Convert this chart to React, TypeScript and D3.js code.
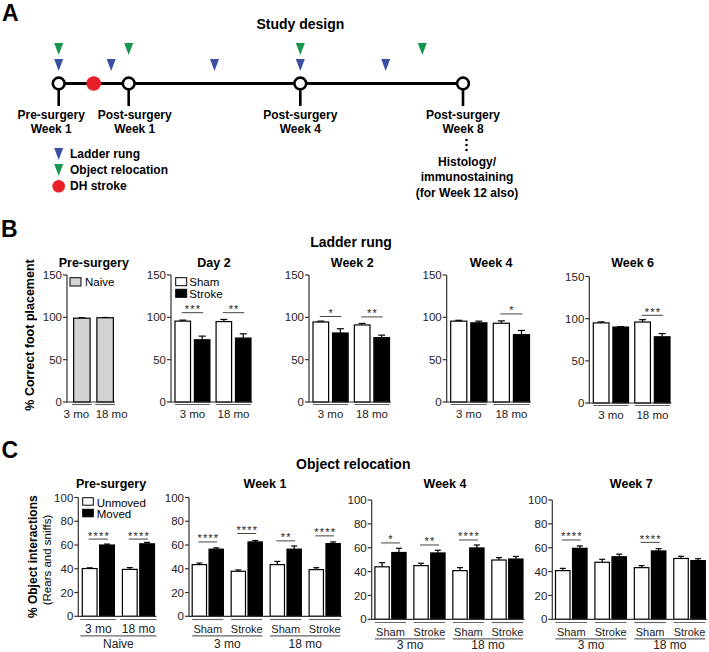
import React from "react";
import * as d3 from "d3";

const FONT = "'Liberation Sans', Arial, Helvetica, sans-serif";

// ---------------- Panel A data ----------------
const milestoneWeeks = [-1, 1, 4, 8];
const milestoneTop = ["Pre-surgery", "Post-surgery", "Post-surgery", "Post-surgery"];
const milestoneBottom = ["Week 1", "Week 1", "Week 4", "Week 8"];
const ladderRungWeeks = [-1, 0.5, 2.5, 4, 6.1];
const objectRelocationWeeks = [-1, 1, 4, 7];
const strokeWeeks = [0];
const histologyLines = ["Histology/", "immunostaining", "(for Week 12 also)"];
const legendLabels = ["Ladder rung", "Object relocation", "DH stroke"];

// ---------------- Panel B data ----------------
const ageGroups = ["3 mo", "18 mo"];
const ladderSeries = ["Sham", "Stroke"];
const ladderTitles = ["Day 2", "Week 2", "Week 4", "Week 6"];
const ladderTicks = [0, 50, 100, 150];
const preNaive = [99, 99.5];
const preNaiveErr = [0.5, 0.3];
const ladderSham = [[95.5, 95], [94.5, 91], [95.5, 93], [95, 96]];
const ladderShamErr = [[1.2, 2.5], [1, 1.8], [1, 2.8], [1.2, 2.8]];
const ladderStroke = [[73.5, 75.5], [81.5, 76], [93.5, 79.5], [90, 78.5]];
const ladderStrokeErr = [[4.3, 5], [5, 3], [2, 5], [0.6, 3.8]];
const ladderSig = [["***", "**"], ["*", "**"], ["", "*"], ["", "***"]];
const ladderSigLevel = [[105.5, 105.5], [101, 100.5], [0, 104], [0, 104]];

// ---------------- Panel C data ----------------
const relocSeries = ["Unmoved", "Moved"];
const relocTitles = ["Week 1", "Week 4", "Week 7"];
const relocTicks = [0, 20, 40, 60, 80, 100];
const surgeryGroups = ["Sham", "Stroke", "Sham", "Stroke"];
const surgeryAges = ["3 mo", "18 mo"];
const preUnmoved = [40.2, 39.5];
const preUnmovedErr = [0.6, 1.5];
const preMoved = [60, 61];
const preMovedErr = [0.8, 1.2];
const preSig = ["****", "****"];
const preSigLevel = [65, 65];
const relocUnmoved = [[43.5, 37.9, 43.5, 39.3], [44, 45, 40.8, 49.7], [40.8, 47.8, 43.3, 51]];
const relocUnmovedErr = [[1.3, 1.1, 2.7, 1.6], [3.5, 2, 2.5, 2], [1.9, 2.5, 1.7, 1.8]];
const relocMoved = [[56.5, 62.6, 56.5, 61.2], [56, 55.6, 59.8, 50.5], [59.5, 52.4, 57.3, 49.2]];
const relocMovedErr = [[1.1, 1.2, 2.7, 1.4], [3.5, 2.3, 2.5, 2.2], [2, 2.2, 1.9, 1.6]];
const relocSig = [["****", "****", "**", "****"], ["*", "**", "****", ""], ["****", "", "****", ""]];
const relocSigLevel = [[62.6, 69.7, 63.5, 67.7], [64, 62.3, 66.5, 0], [66.5, 0, 64.5, 0]];

const BLUE = "#3a4fa3";
const GREEN = "#17964f";
const RED = "#e8202a";
const AXIS = "#333";
const ULINE = "#666";

type Level2 = { label: string; from: number; to: number };

interface ChartProps {
  x0: number;
  x1: number;
  yZeroPx: number;
  yMaxPx: number;
  yMax: number;
  ticks: number[];
  nGroups: number;
  fills: string[];
  values: number[][];
  errs: number[][];
  sig: string[];
  sigLevel: number[];
  padInner: number;
  subPad: number;
  subOuter: number;
  rangePad: [number, number];
  capW: number;
  labels1: string[];
  label1Shift?: number[];
  label1Dy: number;
  uline1Dy: number;
  uline1Ext: number;
  level2?: Level2[];
  level2Dy?: number;
  title: string;
  titleX: number;
  titleY: number;
  titleSize: number;
  labelSize: number;
}

function BarChart(p: ChartProps) {
  const y = d3.scaleLinear().domain([0, p.yMax]).range([p.yZeroPx, p.yMaxPx]);
  const gx = d3
    .scaleBand<number>()
    .domain(d3.range(p.nGroups))
    .range([p.x0 + p.rangePad[0], p.x1 - p.rangePad[1]])
    .paddingInner(p.padInner);
  const sx = d3
    .scaleBand<number>()
    .domain(d3.range(p.values.length))
    .range([0, gx.bandwidth()])
    .paddingInner(p.subPad)
    .paddingOuter(p.subOuter);
  const bw = sx.bandwidth();
  const cx = (g: number, s: number) => (gx(g) as number) + (sx(s) as number) + bw / 2;
  const shift = p.label1Shift || p.labels1.map(() => 0);
  const l2dy = p.level2Dy ?? 31;
  return (
    <g>
      <text x={p.titleX} y={p.titleY} textAnchor="middle" fontWeight="bold" fontSize={p.titleSize}>
        {p.title}
      </text>
      {p.values.map((vals, s) =>
        vals.map((v, g) => (
          <g key={`b${s}-${g}`}>
            <line
              x1={cx(g, s)}
              x2={cx(g, s)}
              y1={y(v)}
              y2={y(v + p.errs[s][g])}
              stroke="#000"
              strokeWidth={1.2}
            />
            <line
              x1={cx(g, s) - p.capW / 2}
              x2={cx(g, s) + p.capW / 2}
              y1={y(v + p.errs[s][g])}
              y2={y(v + p.errs[s][g])}
              stroke="#000"
              strokeWidth={1.2}
            />
            <rect
              x={(gx(g) as number) + (sx(s) as number)}
              y={y(v)}
              width={bw}
              height={y(0) - y(v)}
              fill={p.fills[s]}
              stroke="#000"
              strokeWidth={1.2}
            />
          </g>
        ))
      )}
      {p.sig.map((s, g) =>
        s ? (
          <g key={`s${g}`}>
            <line
              x1={cx(g, 0) - 1}
              x2={cx(g, p.values.length - 1) + 1}
              y1={y(p.sigLevel[g])}
              y2={y(p.sigLevel[g])}
              stroke="#444"
              strokeWidth={1}
            />
            <text
              x={(cx(g, 0) + cx(g, p.values.length - 1)) / 2 + 0.6}
              y={y(p.sigLevel[g]) + 0.5}
              textAnchor="middle"
              fontSize={11}
              letterSpacing={1.2}
              fill="#222"
            >
              {s}
            </text>
          </g>
        ) : null
      )}
      <line x1={p.x0} x2={p.x0} y1={p.yZeroPx + 0.5} y2={p.yMaxPx} stroke={AXIS} strokeWidth={1.2} />
      {p.ticks.map((t) => (
        <g key={`t${t}`}>
          <line x1={p.x0 - 4} x2={p.x0} y1={y(t)} y2={y(t)} stroke={AXIS} strokeWidth={1.2} />
          <text x={p.x0 - 5} y={y(t)} dy="0.36em" textAnchor="end" fontSize={11.5} fill="#222">
            {t}
          </text>
        </g>
      ))}
      <line x1={p.x0} x2={p.x1} y1={p.yZeroPx} y2={p.yZeroPx} stroke={AXIS} strokeWidth={1.2} />
      {p.labels1.map((l, g) => (
        <g key={`l${g}`}>
          <line
            x1={(gx(g) as number) - p.uline1Ext}
            x2={(gx(g) as number) + gx.bandwidth() + p.uline1Ext}
            y1={p.yZeroPx + p.uline1Dy}
            y2={p.yZeroPx + p.uline1Dy}
            stroke={ULINE}
            strokeWidth={1.2}
          />
          <text
            x={(gx(g) as number) + gx.bandwidth() / 2 + shift[g]}
            y={p.yZeroPx + p.label1Dy}
            textAnchor="middle"
            fontSize={p.labelSize}
            fill="#222"
          >
            {l}
          </text>
        </g>
      ))}
      {(p.level2 || []).map((l2, i) => (
        <g key={`m${i}`}>
          <line
            x1={(gx(l2.from) as number) - p.uline1Ext}
            x2={(gx(l2.to) as number) + gx.bandwidth() + p.uline1Ext}
            y1={p.yZeroPx + 19.5}
            y2={p.yZeroPx + 19.5}
            stroke={ULINE}
            strokeWidth={1.2}
          />
          <text
            x={((gx(l2.from) as number) + (gx(l2.to) as number) + gx.bandwidth()) / 2}
            y={p.yZeroPx + l2dy}
            textAnchor="middle"
            fontSize={12}
            fill="#222"
          >
            {l2.label}
          </text>
        </g>
      ))}
    </g>
  );
}

function DownTri({ x, top, color }: { x: number; top: number; color: string }) {
  const path = d3.path();
  path.moveTo(x - 4.5, top);
  path.lineTo(x + 4.5, top);
  path.lineTo(x, top + 12);
  path.closePath();
  return <path d={path.toString()} fill={color} />;
}

function PanelA() {
  const t = d3.scaleLinear().domain(milestoneWeeks).range([58.7, 128.7, 300.3, 463]);
  const lineY = 83.5;
  const labelShift = [-7.5, 6, 0, 0];
  const weekEnd = t(8);
  return (
    <g>
      <text x={2} y={20.5} fontSize={23} fontWeight="bold">A</text>
      <text x={300.4} y={28.5} textAnchor="middle" fontSize={14} fontWeight="bold">Study design</text>
      {objectRelocationWeeks.map((w, i) => (
        <DownTri key={`g${i}`} x={t(w)} top={43} color={GREEN} />
      ))}
      {ladderRungWeeks.map((w, i) => (
        <DownTri key={`b${i}`} x={t(w)} top={59} color={BLUE} />
      ))}
      <line x1={t(-1)} x2={t(8)} y1={lineY} y2={lineY} stroke="#000" strokeWidth={3} />
      {strokeWeeks.map((w, i) => (
        <circle key={`r${i}`} cx={t(w)} cy={lineY} r={7.3} fill={RED} />
      ))}
      {milestoneWeeks.map((w, i) => (
        <g key={`m${i}`}>
          <line x1={t(w)} x2={t(w)} y1={lineY + 6} y2={106} stroke="#000" strokeWidth={2.6} />
          <circle cx={t(w)} cy={lineY} r={5.9} fill="#fff" stroke="#000" strokeWidth={2.6} />
          <text x={t(w) + labelShift[i]} y={118.5} textAnchor="middle" fontSize={12} fontWeight="bold">
            {milestoneTop[i]}
          </text>
          <text x={t(w) + labelShift[i]} y={132.5} textAnchor="middle" fontSize={12} fontWeight="bold">
            {milestoneBottom[i]}
          </text>
        </g>
      ))}
      {[140, 145, 150].map((yy) => (
        <circle key={`d${yy}`} cx={weekEnd + 3.5} cy={yy} r={1.3} fill="#000" />
      ))}
      {histologyLines.map((l, i) => (
        <text key={`h${i}`} x={467} y={165.5 + i * 15.5} textAnchor="middle" fontSize={12} fontWeight="bold">
          {l}
        </text>
      ))}
      <DownTri x={58.7} top={148} color={BLUE} />
      <DownTri x={58.7} top={164} color={GREEN} />
      <circle cx={58.7} cy={186.3} r={6.3} fill={RED} />
      {legendLabels.map((l, i) => (
        <text key={`lg${i}`} x={70} y={158 + i * 16} fontSize={12} fontWeight="bold">
          {l}
        </text>
      ))}
    </g>
  );
}

const bLayout = [
  { x0: 67, x1: 115, top: 275, zero: 402 },
  { x0: 171, x1: 252.5, top: 275, zero: 402 },
  { x0: 309, x1: 391, top: 275, zero: 402 },
  { x0: 446.7, x1: 531, top: 275, zero: 402 },
  { x0: 589.3, x1: 671.5, top: 276.5, zero: 403 },
];

function PanelB() {
  const common = {
    yMax: 150,
    ticks: ladderTicks,
    nGroups: ageGroups.length,
    padInner: 0.15,
    capW: 7,
    labels1: ageGroups,
    label1Dy: 16,
    uline1Dy: 2.5,
    uline1Ext: 0,
    titleY: 267,
    titleSize: 12.5,
    labelSize: 11.5,
  };
  return (
    <g>
      <text x={1} y={237} fontSize={23} fontWeight="bold">B</text>
      <text x={351} y={247} textAnchor="middle" fontSize={14} fontWeight="bold">Ladder rung</text>
      <text
        transform="translate(34,335) rotate(-90)"
        textAnchor="middle"
        fontSize={12.5}
        fontWeight="bold"
      >
        % Correct foot placement
      </text>
      <BarChart
        {...common}
        x0={bLayout[0].x0}
        x1={bLayout[0].x1}
        yZeroPx={bLayout[0].zero}
        yMaxPx={bLayout[0].top}
        fills={["#d3d3d3"]}
        values={[preNaive]}
        errs={[preNaiveErr]}
        sig={["", ""]}
        sigLevel={[0, 0]}
        subPad={0}
        subOuter={0.1}
        rangePad={[5, 0]}
        label1Shift={[-5.5, 6.5]}
        title="Pre-surgery"
        titleX={93.8}
      />
      <rect x={70} y={277.7} width={11} height={8.3} fill="#d3d3d3" stroke="#000" strokeWidth={1} />
      <text x={85} y={286} fontSize={11.5}>Naive</text>
      {ladderTitles.map((title, i) => {
        const L = bLayout[i + 1];
        return (
          <BarChart
            key={title}
            {...common}
            x0={L.x0}
            x1={L.x1}
            yZeroPx={L.zero}
            yMaxPx={L.top}
            fills={["#fff", "#000"]}
            values={[ladderSham[i], ladderStroke[i]]}
            errs={[ladderShamErr[i], ladderStrokeErr[i]]}
            sig={ladderSig[i]}
            sigLevel={ladderSigLevel[i]}
            subPad={0.2}
            subOuter={0}
            rangePad={[4, 1.5]}
            title={title}
            titleX={(L.x0 + 4 + L.x1 - 1.5) / 2 + 1}
          />
        );
      })}
      <rect x={175.7} y={277.7} width={11} height={8} fill="#fff" stroke="#000" strokeWidth={1} />
      <rect x={175.7} y={289.3} width={11} height={8} fill="#000" stroke="#000" strokeWidth={1} />
      <text x={189.3} y={286} fontSize={11.5}>{ladderSeries[0]}</text>
      <text x={189.3} y={297.5} fontSize={11.5}>{ladderSeries[1]}</text>
    </g>
  );
}

const cLayout = [
  { x0: 78.3, x1: 156.5, top: 497.5, zero: 616.3, titleX: 111 },
  { x0: 189, x1: 341.8, top: 497.5, zero: 616.3, titleX: 265 },
  { x0: 371.7, x1: 524.5, top: 500, zero: 619.3, titleX: 445 },
  { x0: 552.3, x1: 706.8, top: 500, zero: 619.3, titleX: 631.3 },
];

function PanelC() {
  const common = {
    yMax: 100,
    ticks: relocTicks,
    padInner: 0.2,
    subPad: 0.15,
    subOuter: 0,
    capW: 6,
    label1Dy: 16.3,
    uline1Dy: 3.2,
    titleY: 487.5,
    titleSize: 12.5,
    labelSize: 11,
    fills: ["#fff", "#000"],
  };
  return (
    <g>
      <text x={1.5} y={458} fontSize={23} fontWeight="bold">C</text>
      <text x={353.3} y={469} textAnchor="middle" fontSize={14} fontWeight="bold">Object relocation</text>
      <text transform="translate(37,556.7) rotate(-90)" textAnchor="middle" fontSize={12} fontWeight="bold">
        % Object interactions
      </text>
      <text transform="translate(51,560) rotate(-90)" textAnchor="middle" fontSize={11.5}>
        (Rears and sniffs)
      </text>
      <BarChart
        {...common}
        x0={cLayout[0].x0}
        x1={cLayout[0].x1}
        yZeroPx={cLayout[0].zero}
        yMaxPx={cLayout[0].top}
        nGroups={ageGroups.length}
        values={[preUnmoved, preMoved]}
        errs={[preUnmovedErr, preMovedErr]}
        sig={preSig}
        sigLevel={preSigLevel}
        rangePad={[4, 2]}
        labels1={ageGroups}
        uline1Ext={2}
        level2={[{ label: "Naive", from: 0, to: 1 }]}
        level2Dy={32}
        title="Pre-surgery"
        titleX={cLayout[0].titleX}
        labelSize={12}
      />
      <rect x={82.7} y={497.7} width={10.6} height={7.5} fill="#fff" stroke="#000" strokeWidth={1} />
      <rect x={82.7} y={509.3} width={10.6} height={7.5} fill="#000" stroke="#000" strokeWidth={1} />
      <text x={96.7} y={506.5} fontSize={11.5}>{relocSeries[0]}</text>
      <text x={96.7} y={518} fontSize={11.5}>{relocSeries[1]}</text>
      {relocTitles.map((title, i) => {
        const L = cLayout[i + 1];
        return (
          <BarChart
            key={title}
            {...common}
            x0={L.x0}
            x1={L.x1}
            yZeroPx={L.zero}
            yMaxPx={L.top}
            nGroups={surgeryGroups.length}
            values={[relocUnmoved[i], relocMoved[i]]}
            errs={[relocUnmovedErr[i], relocMovedErr[i]]}
            sig={relocSig[i]}
            sigLevel={relocSigLevel[i]}
            rangePad={[3.2, 1.5]}
            labels1={surgeryGroups}
            uline1Ext={0}
            level2={[
              { label: surgeryAges[0], from: 0, to: 1 },
              { label: surgeryAges[1], from: 2, to: 3 },
            ]}
            level2Dy={i === 0 ? 31.5 : 29.8}
            title={title}
            titleX={L.titleX}
          />
        );
      })}
    </g>
  );
}

export default function App() {
  return (
    <svg
      width={709}
      height={652}
      viewBox="0 0 709 652"
      style={{ position: "absolute", left: 0, top: 0, background: "#fff" }}
      fontFamily={FONT}
    >
      <rect width={709} height={652} fill="#fff" />
      <PanelA />
      <PanelB />
      <PanelC />
    </svg>
  );
}
